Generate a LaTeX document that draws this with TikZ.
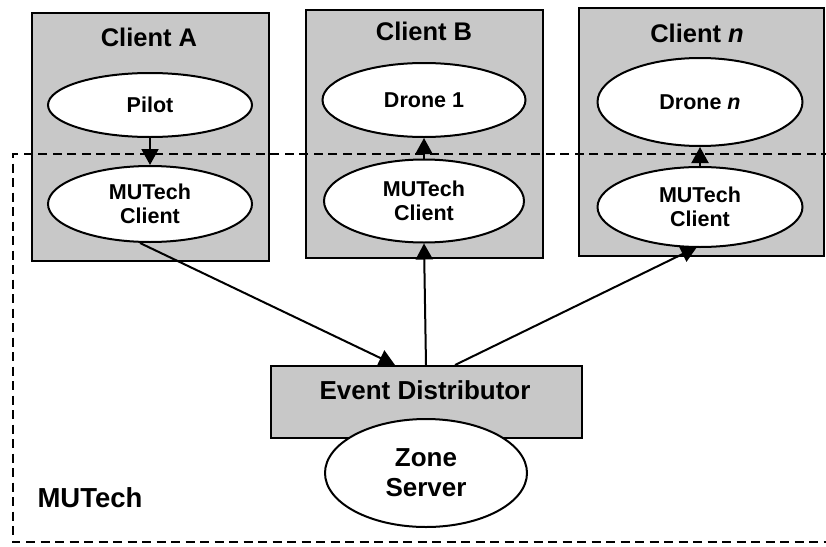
\documentclass[tikz,border=0pt]{standalone}
\usepackage{fontspec}
\setmainfont{Liberation Sans}
\usetikzlibrary{shapes.geometric,arrows.meta,calc}
\definecolor{halftone}{RGB}{200,200,200}
\begin{document}
\begin{tikzpicture}[x=1pt,y=-1pt,
  clientbox/.style={draw,line width=2.2pt,fill=halftone},
  oval/.style={ellipse,draw,line width=2pt,fill=white,inner sep=0pt,align=center,
    font=\fontsize{21.5}{23.5}\selectfont\bfseries},
  ttl/.style={font=\fontsize{25.5}{28}\selectfont\bfseries},
  arr/.style={line width=2pt,-{Triangle[length=16pt,width=17pt]}},
  fence/.style={line width=2.6pt,dash pattern=on 9pt off 5.5pt}]
\useasboundingbox (0,0) rectangle (826,546);
% client boxes
\draw[clientbox] (32,13) rectangle (269,261);
\draw[clientbox] (306,10) rectangle (543,258);
\draw[clientbox] (579,8) rectangle (824,256);
\node[ttl] (tA) at (149,37) {Client A};
\node[ttl] (tB) at (424,31) {Client B};
\node[ttl] (tN) at (697,33) {Client \textit{n}};
% ellipses
\node[oval,minimum width=204pt,minimum height=64pt] (pilot) at (150,105) {Pilot};
\node[oval,minimum width=204pt,minimum height=76pt] (mA) at (150,204) {MUTech\\Client};
\node[oval,minimum width=203pt,minimum height=74pt] (d1) at (424,100) {Drone 1};
\node[oval,minimum width=200pt,minimum height=83pt] (mB) at (424,201) {MUTech\\Client};
\node[oval,minimum width=205pt,minimum height=88pt] (dn) at (700,102) {Drone \textit{n}};
\node[oval,minimum width=205pt,minimum height=80pt] (mN) at (700,207) {MUTech\\Client};
% dashed MUTech boundary
\draw[fence] (830,154) -- (13,154) -- (13,542) -- (830,542);
\node[font=\fontsize{27.5}{30}\selectfont\bfseries] (mu) at (90,498) {MUTech};
% event distributor and zone server
\node[draw,line width=2.2pt,fill=halftone,minimum width=311pt,minimum height=72pt,inner sep=0pt,
  anchor=north west] (ED) at (270,365) {};
\node[font=\fontsize{26}{30}\selectfont\bfseries] (edt) at (425,390) {Event Distributor};
\node[oval,minimum width=202pt,minimum height=108pt,font=\fontsize{26}{30}\selectfont\bfseries] (zs) at (426,473) {Zone\\Server};
% connectors
\draw[arr] (pilot.south) -- (mA.north);
\draw[arr] (mB.north) -- (d1.south);
\draw[arr] (mN.north) -- (dn.south);
\draw[arr] ($(mA.south)+(-10,0)$) -- ($(ED.north west)+(125,0)$);
\draw[arr] ($(ED.north west)+(156,0)$) -- (mB.south);
\draw[arr] ($(ED.north west)+(185,0)$) -- ($(mN.south)+(-3,-1)$);
\end{tikzpicture}
\end{document}
